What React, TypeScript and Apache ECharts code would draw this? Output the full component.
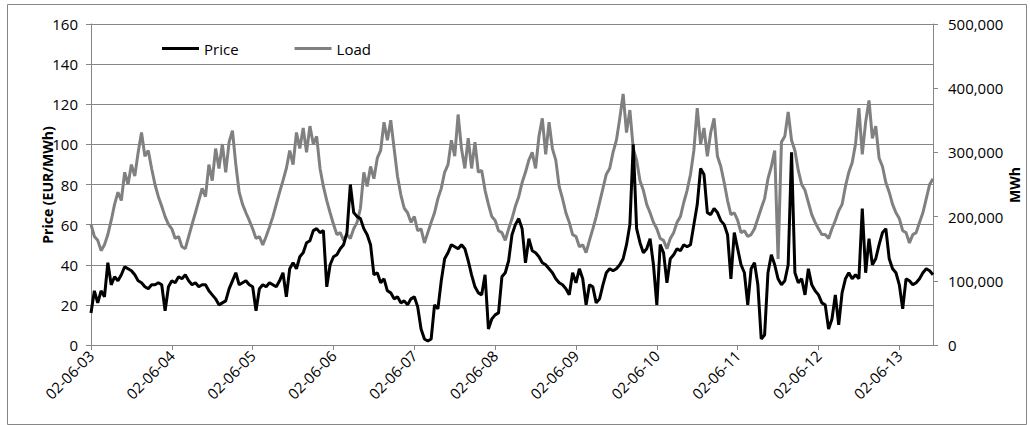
import React, { useEffect, useRef } from "react";
import * as echarts from "echarts";

// Day labels on the time axis (yy-mm-dd), one per 24 hourly points
const dayLabels = [
  "02-06-03", "02-06-04", "02-06-05", "02-06-06", "02-06-07", "02-06-08",
  "02-06-09", "02-06-10", "02-06-11", "02-06-12", "02-06-13",
];
const hoursPerDay = 24;

// Hourly spot price, EUR/MWh
const price = [
  16, 27, 21, 27, 24, 41, 30, 34, 32, 35, 39, 38, 37, 35, 32, 31, 29, 28, 30, 30, 31, 30, 17, 29,
  32, 31, 34, 33, 35, 32, 30, 31, 29, 30, 30, 27, 25, 23, 20, 21, 22, 28, 32, 36, 30, 31, 32, 30,
  29, 17, 28, 30, 29, 31, 30, 29, 32, 36, 24, 38, 41, 38, 44, 46, 51, 52, 57, 58, 56, 57, 29, 40,
  44, 45, 48, 50, 56, 80, 66, 64, 63, 58, 55, 50, 35, 36, 31, 33, 27, 26, 23, 24, 21, 22, 20, 23,
  24, 19, 8, 3, 2, 3, 20, 18, 32, 43, 46, 50, 49, 48, 50, 48, 42, 35, 29, 26, 25, 35, 8, 13,
  15, 16, 34, 36, 42, 55, 60, 63, 58, 41, 53, 47, 46, 44, 41, 40, 38, 36, 33, 31, 30, 28, 25, 36,
  31, 38, 33, 20, 30, 29, 21, 23, 30, 36, 38, 37, 38, 40, 43, 50, 60, 100, 58, 51, 46, 48, 53, 40,
  20, 50, 46, 31, 43, 45, 48, 47, 50, 49, 50, 60, 70, 88, 85, 66, 65, 68, 66, 62, 60, 55, 33, 56,
  48, 40, 36, 20, 38, 41, 30, 3, 5, 36, 45, 40, 33, 30, 32, 40, 96, 36, 31, 33, 25, 38, 30, 27,
  25, 21, 20, 8, 13, 25, 10, 26, 33, 36, 33, 35, 33, 68, 36, 53, 40, 43, 50, 56, 58, 43, 38, 36,
  30, 18, 33, 32, 30, 31, 33, 36, 38, 37, 35,
];

// Hourly load, MWh
const load = [
  188000, 169000, 163000, 147000, 156000, 172000, 194000, 219000, 238000, 225000, 269000, 250000,
  281000, 263000, 300000, 331000, 294000, 303000, 275000, 250000, 231000, 216000, 200000, 188000,
  181000, 166000, 169000, 153000, 150000, 169000, 188000, 206000, 225000, 244000, 231000, 281000,
  256000, 306000, 275000, 313000, 269000, 316000, 334000, 281000, 238000, 219000, 206000, 194000,
  181000, 166000, 169000, 156000, 169000, 184000, 200000, 219000, 238000, 256000, 275000, 303000,
  281000, 331000, 306000, 338000, 300000, 341000, 313000, 325000, 275000, 247000, 225000, 206000,
  188000, 172000, 175000, 163000, 172000, 166000, 181000, 191000, 213000, 269000, 247000, 278000,
  259000, 291000, 303000, 347000, 319000, 350000, 306000, 263000, 234000, 213000, 206000, 191000,
  200000, 178000, 181000, 159000, 175000, 191000, 206000, 228000, 244000, 269000, 281000, 319000,
  294000, 359000, 306000, 275000, 322000, 275000, 316000, 269000, 272000, 241000, 219000, 200000,
  194000, 178000, 175000, 163000, 181000, 197000, 216000, 231000, 253000, 269000, 288000, 300000,
  275000, 325000, 353000, 297000, 347000, 306000, 288000, 247000, 228000, 206000, 191000, 172000,
  169000, 153000, 156000, 144000, 163000, 181000, 200000, 222000, 244000, 266000, 275000, 300000,
  319000, 353000, 391000, 331000, 366000, 306000, 288000, 256000, 241000, 219000, 206000, 191000,
  181000, 166000, 163000, 150000, 166000, 175000, 191000, 200000, 222000, 241000, 266000, 303000,
  369000, 313000, 338000, 294000, 331000, 353000, 294000, 278000, 253000, 225000, 203000, 206000,
  194000, 175000, 178000, 169000, 172000, 181000, 197000, 213000, 228000, 259000, 278000, 303000,
  134000, 316000, 325000, 363000, 319000, 303000, 272000, 250000, 241000, 222000, 203000, 191000,
  181000, 172000, 172000, 166000, 181000, 194000, 209000, 219000, 247000, 269000, 284000, 313000,
  369000, 297000, 347000, 381000, 322000, 341000, 291000, 278000, 253000, 238000, 219000, 206000,
  197000, 178000, 175000, 159000, 172000, 175000, 191000, 206000, 228000, 250000, 259000,
];

const priceAxis = { min: 0, max: 160, step: 20 };
const loadAxis = { min: 0, max: 500000, step: 100000 };

const FONT = '"Open Sans", "Liberation Sans", sans-serif';
const AXIS_GRAY = "#868686";

const pad2 = (n: number) => (n < 10 ? "0" + n : String(n));
const timeCategories = price.map(
  (_, i) => `${dayLabels[Math.floor(i / hoursPerDay)]} ${pad2(i % hoursPerDay)}:00`
);
const isDayStart = (i: number) => i % hoursPerDay === 0;

export default function App() {
  const ref = useRef<HTMLDivElement>(null);

  useEffect(() => {
    if (!ref.current) return;
    const chart = echarts.init(ref.current, null, { renderer: "svg" });

    chart.setOption({
      animation: false,
      textStyle: { fontFamily: FONT },
      grid: { left: 91, right: 97, top: 24, bottom: 80, containLabel: false },
      legend: {
        data: ["Price", "Load"],
        left: 157,
        top: 36,
        icon: "rect",
        itemWidth: 37,
        itemHeight: 3,
        itemGap: 56,
        textStyle: { fontFamily: FONT, fontSize: 15, color: "#000" },
      },
      xAxis: {
        type: "category",
        data: timeCategories,
        boundaryGap: false,
        axisLine: { lineStyle: { color: AXIS_GRAY, width: 1 } },
        axisTick: {
          show: true,
          interval: (i: number) => isDayStart(i),
          length: 5,
          lineStyle: { color: AXIS_GRAY },
        },
        axisLabel: {
          interval: (i: number) => isDayStart(i),
          rotate: 45,
          margin: 8,
          fontFamily: FONT,
          fontSize: 15,
          color: "#000",
          formatter: (v: string) => v.slice(0, 8),
        },
        splitLine: { show: false },
      },
      yAxis: [
        {
          type: "value",
          position: "left",
          min: priceAxis.min,
          max: priceAxis.max,
          interval: priceAxis.step,
          axisLine: { show: true, lineStyle: { color: AXIS_GRAY } },
          axisTick: { show: true, length: 5, lineStyle: { color: AXIS_GRAY } },
          axisLabel: { margin: 13, fontFamily: FONT, fontSize: 15, color: "#000" },
          splitLine: { show: true, lineStyle: { color: AXIS_GRAY, width: 1 } },
        },
        {
          type: "value",
          position: "right",
          min: loadAxis.min,
          max: loadAxis.max,
          interval: loadAxis.step,
          axisLine: { show: true, lineStyle: { color: AXIS_GRAY } },
          axisTick: { show: true, length: 5, lineStyle: { color: AXIS_GRAY } },
          axisLabel: {
            margin: 15,
            fontFamily: FONT,
            fontSize: 15,
            color: "#000",
            formatter: (v: number) => v.toLocaleString("en-US"),
          },
          splitLine: { show: false },
        },
      ],
      series: [
        {
          name: "Price",
          type: "line",
          data: price,
          yAxisIndex: 0,
          showSymbol: false,
          symbol: "none",
          color: "#000000",
          itemStyle: { color: "#000000" },
          lineStyle: { color: "#000000", width: 3 },
          z: 3,
        },
        {
          name: "Load",
          type: "line",
          data: load,
          yAxisIndex: 1,
          showSymbol: false,
          symbol: "none",
          color: "#808080",
          itemStyle: { color: "#808080" },
          lineStyle: { color: "#808080", width: 3 },
          z: 2,
        },
      ],
      graphic: [
        {
          type: "rect",
          left: 5,
          top: 2,
          shape: { width: 1019, height: 420 },
          style: { fill: "none", stroke: AXIS_GRAY, lineWidth: 1 },
          silent: true,
        },
        {
          type: "text",
          x: 47,
          y: 185,
          rotation: Math.PI / 2,
          style: {
            text: "Price (EUR/MWh)",
            fontFamily: FONT,
            fontSize: 14,
            fontWeight: "bold",
            fill: "#000",
            align: "center",
            verticalAlign: "middle",
          },
        },
        {
          type: "text",
          x: 1014,
          y: 185,
          rotation: Math.PI / 2,
          style: {
            text: "MWh",
            fontFamily: FONT,
            fontSize: 14,
            fontWeight: "bold",
            fill: "#000",
            align: "center",
            verticalAlign: "middle",
          },
        },
      ],
    });

    return () => chart.dispose();
  }, []);

  return (
    <div
      ref={ref}
      style={{ position: "fixed", left: 0, top: 0, width: 1030, height: 425, background: "#fff" }}
    />
  );
}
